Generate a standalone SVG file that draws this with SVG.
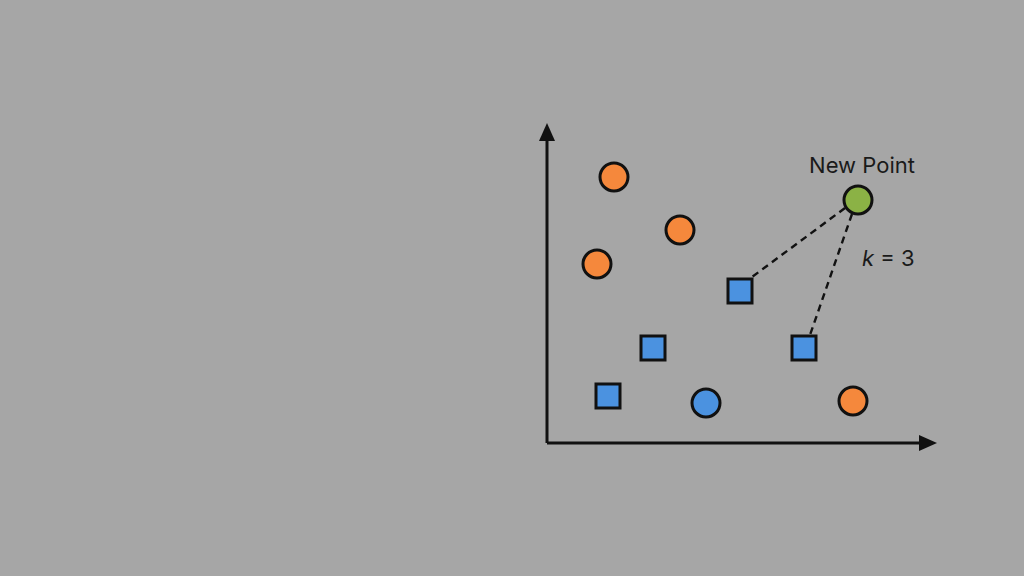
<svg xmlns="http://www.w3.org/2000/svg" width="1024" height="576" viewBox="0 0 1024 576">
<style>
.pt{stroke:#111;stroke-width:3}
.or{fill:#f5883c}
.bl{fill:#4b92e0}
.gr{fill:#8bb245}
.axis{stroke:#111;stroke-width:3;fill:none}
.dash{stroke:#111;stroke-width:2.4;stroke-dasharray:7 5;fill:none}
.lbl{font-family:"Inter","Liberation Sans",sans-serif;font-size:22px;fill:#1a1a1a}
</style>
<rect width="1024" height="576" fill="#a6a6a6"/>
<g id="axes">
<path class="axis" d="M547,443 V138 M547,443 H922"/>
<polygon points="547,123 539,141 555,141" fill="#111"/>
<polygon points="937,443 919,435 919,451" fill="#111"/>
</g>
<g id="connectors">
<line class="dash" x1="845" y1="208" x2="752" y2="277"/>
<line class="dash" x1="852" y1="214" x2="810" y2="335"/>
</g>
<g id="o1"><circle class="pt or" cx="614" cy="177" r="14"/></g>
<g id="o2"><circle class="pt or" cx="680" cy="230" r="14"/></g>
<g id="o3"><circle class="pt or" cx="597" cy="264" r="14"/></g>
<g id="o4"><circle class="pt or" cx="853" cy="401" r="14"/></g>
<g id="b1"><circle class="pt bl" cx="706" cy="403" r="14"/></g>
<g id="s1"><rect class="pt bl" x="728" y="279" width="24" height="24"/></g>
<g id="s2"><rect class="pt bl" x="641" y="336" width="24" height="24"/></g>
<g id="s3"><rect class="pt bl" x="596" y="384" width="24" height="24"/></g>
<g id="s4"><rect class="pt bl" x="792" y="336" width="24" height="24"/></g>
<g id="newpoint"><circle class="pt gr" cx="858" cy="200" r="14"/>
<text class="lbl" x="862" y="173" text-anchor="middle">New Point</text></g>
<g id="k"><text class="lbl" x="862" y="266"><tspan font-style="italic">k</tspan> = 3</text></g>
</svg>
